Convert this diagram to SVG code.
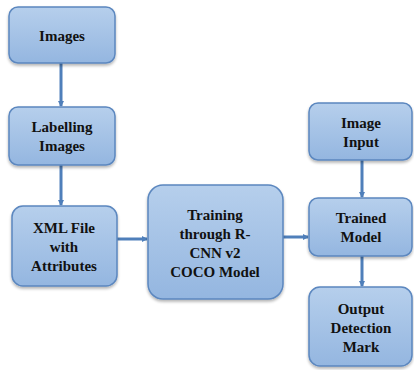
<svg xmlns="http://www.w3.org/2000/svg" width="414" height="370" viewBox="0 0 414 370">
  <style>
    .box { fill: url(#boxFill); stroke: #5b87bf; stroke-width: 1.5; filter: url(#shadow); }
    .label { font-family: "Liberation Serif", "DejaVu Serif", serif; font-weight: bold; font-size: 15px; fill: #111; text-anchor: middle; }
    .link { stroke: #4f7fba; stroke-width: 3; fill: none; marker-end: url(#tip); }
  </style>
  <defs>
    <linearGradient id="boxFill" x1="0" y1="0" x2="0" y2="1">
      <stop offset="0" stop-color="#b6cfec"/>
      <stop offset="1" stop-color="#94b6e0"/>
    </linearGradient>
    <filter id="shadow" x="-10%" y="-10%" width="125%" height="130%">
      <feGaussianBlur in="SourceAlpha" stdDeviation="1.5"/>
      <feOffset dx="0" dy="2" result="b"/>
      <feComponentTransfer><feFuncA type="linear" slope="0.3"/></feComponentTransfer>
      <feMerge><feMergeNode/><feMergeNode in="SourceGraphic"/></feMerge>
    </filter>
    <marker id="tip" viewBox="0 0 6 6" refX="5" refY="3" markerWidth="2" markerHeight="2" orient="auto">
      <path d="M0,0 L6,3 L0,6 z" fill="#4f7fba"/>
    </marker>
  </defs>

  <g id="connectors">
    <line class="link" x1="61" y1="63" x2="61" y2="106"/>
    <line class="link" x1="61" y1="165" x2="61" y2="205"/>
    <line class="link" x1="117" y1="239" x2="147" y2="239"/>
    <line class="link" x1="283" y1="237" x2="308" y2="237"/>
    <line class="link" x1="362" y1="160" x2="362" y2="197"/>
    <line class="link" x1="362" y1="256" x2="362" y2="286"/>
  </g>

  <g id="images">
    <rect class="box" x="9" y="7" width="106" height="56" rx="9"/>
    <text class="label" x="62" y="41">Images</text>
  </g>
  <g id="labelling">
    <rect class="box" x="9" y="107" width="106" height="58" rx="9"/>
    <text class="label" x="62" y="132">Labelling</text>
    <text class="label" x="62" y="151">Images</text>
  </g>
  <g id="xml">
    <rect class="box" x="12" y="206" width="105" height="80" rx="11"/>
    <text class="label" x="64" y="233">XML File</text>
    <text class="label" x="64" y="252">with</text>
    <text class="label" x="64" y="271">Attributes</text>
  </g>
  <g id="training">
    <rect class="box" x="148" y="185" width="135" height="114" rx="15"/>
    <text class="label" x="215" y="220">Training</text>
    <text class="label" x="215" y="239">through R-</text>
    <text class="label" x="215" y="258">CNN v2</text>
    <text class="label" x="215" y="277">COCO Model</text>
  </g>
  <g id="image-input">
    <rect class="box" x="309" y="103" width="103" height="57" rx="9"/>
    <text class="label" x="361" y="128">Image</text>
    <text class="label" x="361" y="147">Input</text>
  </g>
  <g id="trained-model">
    <rect class="box" x="309" y="198" width="103" height="58" rx="9"/>
    <text class="label" x="361" y="223">Trained</text>
    <text class="label" x="361" y="242">Model</text>
  </g>
  <g id="output">
    <rect class="box" x="309" y="287" width="103" height="79" rx="11"/>
    <text class="label" x="361" y="314">Output</text>
    <text class="label" x="361" y="333">Detection</text>
    <text class="label" x="361" y="352">Mark</text>
  </g>
</svg>
